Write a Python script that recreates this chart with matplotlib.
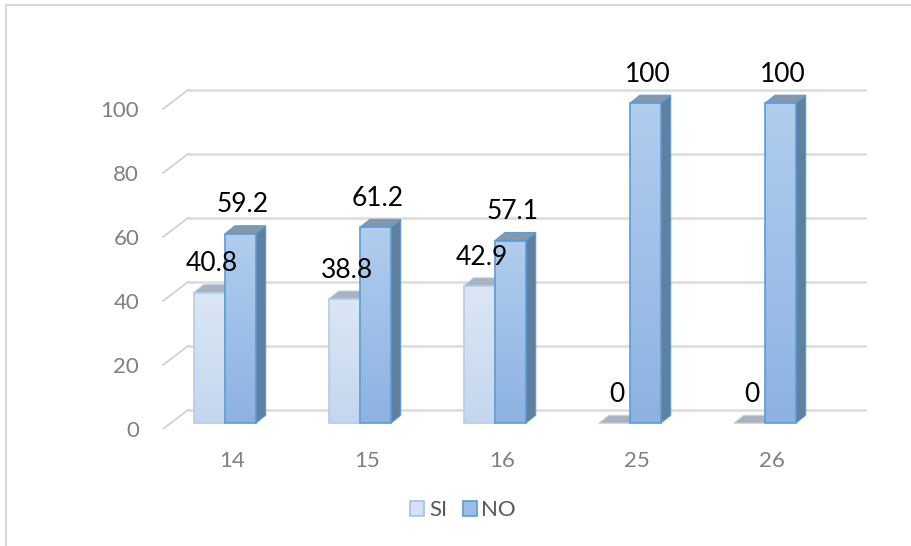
import matplotlib
matplotlib.use("Agg")
import matplotlib.pyplot as plt
import numpy as np
from matplotlib.patches import Polygon, Rectangle
from matplotlib.lines import Line2D

plt.rcParams['font.family'] = ['Lato', 'DejaVu Sans']

categories = ["14", "15", "16", "25", "26"]
si_values = [40.8, 38.8, 42.9, 0, 0]
no_values = [59.2, 61.2, 57.1, 100, 100]
y_ticks = [0, 20, 40, 60, 80, 100]
series_names = ["SI", "NO"]

fig = plt.figure(figsize=(9.11, 5.46), dpi=100)
ax = fig.add_axes([160/911, (546-429)/546, (867-160)/911, 377.6/546])
ax.set_xlim(-0.533, 4.704)
ax.set_ylim(0, 118)
for s in ax.spines.values():
    s.set_visible(False)

# 3D geometry (data units)
wall = 5.94          # back-wall vertical shift
wall_x0 = -0.326     # back-wall left edge
floor_x0 = -0.511
fb = 1.8             # front base of bars
dx, dy = 0.074, 2.5  # bar depth
w = 0.228
offsets = [-0.283, -0.052]

# back wall gridlines + slanted side lines
for v in y_ticks:
    ax.plot([wall_x0, 4.704], [v + wall, v + wall], color="#dcdcdc", lw=1.8, zorder=1,
            solid_capstyle="butt")
    ax.plot([floor_x0, wall_x0], [v, v + wall], color="#cfcfcf", lw=1.2, zorder=1)

styles = {
    "SI": dict(top_c="#dce7f5", bot_c="#c4d6ee", edge="#b3cbea", side="#8fa6c4", topf="#a9b3c0"),
    "NO": dict(top_c="#b0cdee", bot_c="#8db2e2", edge="#5b9bd5", side="#60809f", topf="#8597ad"),
}

x = np.arange(len(categories))
for i in range(len(categories)):
    for name, vals, off in zip(series_names, [si_values, no_values], offsets):
        st = styles[name]
        v = vals[i]
        left = x[i] + off
        z = 3 + i * 0.01
        side = Polygon([(left + w, fb), (left + w + dx, fb + dy), (left + w + dx, fb + v + dy),
                        (left + w, fb + v)], closed=True, facecolor=st["side"],
                       edgecolor=st["edge"], lw=0.8, zorder=z)
        ax.add_patch(side)
        top = Polygon([(left, fb + v), (left + dx, fb + v + dy), (left + w + dx, fb + v + dy),
                       (left + w, fb + v)], closed=True, facecolor=st["topf"],
                      edgecolor=st["edge"] if v > 0 else "#c9d6e6", lw=0.8, zorder=z)
        ax.add_patch(top)
        if v > 0:
            bar = ax.bar(left, v, bottom=fb, width=w, align="edge", facecolor="none",
                         edgecolor=st["edge"], lw=1.2, zorder=z + 0.002)[0]
            grad = np.linspace(0, 1, 64).reshape(-1, 1)
            c1 = np.array(matplotlib.colors.to_rgb(st["bot_c"]))
            c2 = np.array(matplotlib.colors.to_rgb(st["top_c"]))
            img = c1[None, None, :] * (1 - grad[:, :, None]) + c2[None, None, :] * grad[:, :, None]
            im = ax.imshow(img, extent=[left, left + w, fb, fb + v], origin="lower",
                           aspect="auto", zorder=z + 0.001, interpolation="bilinear")
            im.set_clip_path(bar)
        lab = f"{v:g}"
        ax.text(left + w / 2 + 0.02, fb + v + 9.0, lab, ha="center", va="center",
                fontsize=19, color="black", zorder=10, clip_on=False)

ax.set_xticks(x)
ax.set_xticklabels(categories)
ax.set_yticks(y_ticks)
ax.set_yticklabels([str(t) for t in y_ticks])
ax.tick_params(axis="both", length=0, labelsize=16, colors="#808080")
ax.tick_params(axis="y", pad=15)
ax.tick_params(axis="x", pad=16)
ax.set_xlim(-0.533, 4.704)
ax.set_ylim(0, 118)

handles = [Rectangle((0, 0), 1, 1, facecolor="#d3e1f3", edgecolor="#9dc3e6", lw=1.2),
           Rectangle((0, 0), 1, 1, facecolor="#9bbde6", edgecolor="#5b9bd5", lw=1.2)]
leg = fig.legend(handles, series_names, loc="center", bbox_to_anchor=(463/911, 1 - 510/546),
                 ncol=2, frameon=False, fontsize=16, handlelength=0.65, handleheight=0.65,
                 handletextpad=0.2, columnspacing=0.7, labelcolor="#595959")

fig.add_artist(Line2D([6/911, 1], [1 - 5/546, 1 - 5/546], color="#d9d9d9", lw=1.5))
fig.add_artist(Line2D([6/911, 6/911], [0, 1 - 5/546], color="#d9d9d9", lw=1.5))

fig.savefig("out.png", dpi=100, facecolor="white")
